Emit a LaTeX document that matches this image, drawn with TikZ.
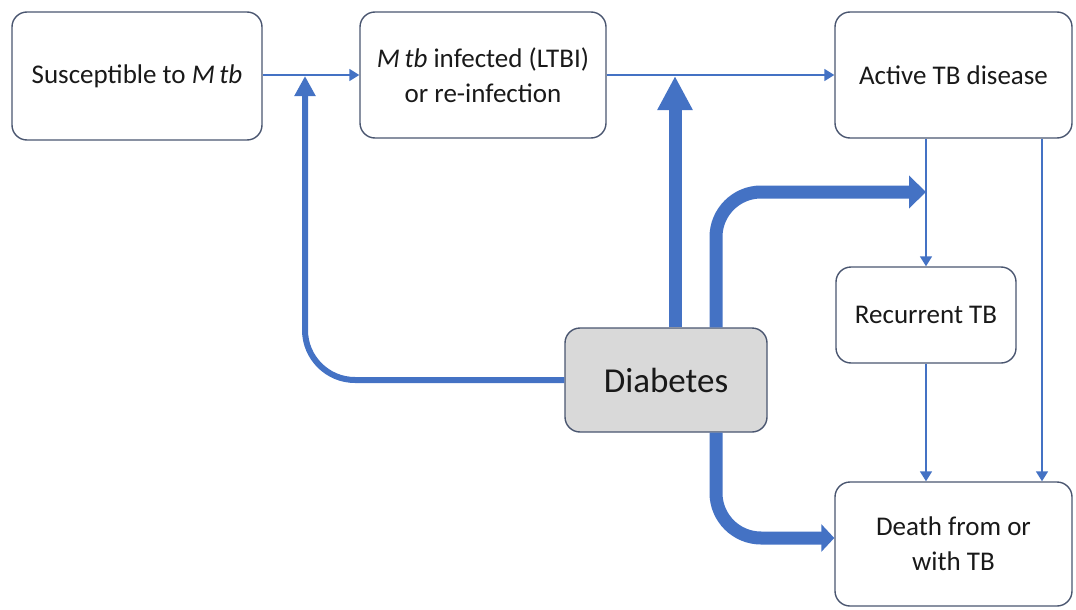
\documentclass[tikz,border=0pt]{standalone}
\usepackage{fontspec}
\setmainfont{Carlito}
\usetikzlibrary{arrows.meta}
\definecolor{flow}{HTML}{4472C4}
\definecolor{edge}{HTML}{4A5670}
\definecolor{dbfill}{HTML}{D9D9D9}

\begin{document}
\begin{tikzpicture}[
  x=1pt, y=-1pt,
  every node/.style={font=\fontsize{27}{35}\selectfont, text=black!90},
  box/.style={draw=edge, line width=1.4pt, rounded corners=15pt, align=center, inner sep=0pt},
  arr/.style={-{Triangle[width=12pt,length=10pt]}, color=flow, line width=1.7pt},
  fat/.style={-{Triangle[width=33pt,length=34pt]}, color=flow, line width=13pt},
  wide/.style={-{Triangle[width=32pt,length=17pt]}, color=flow, line width=13pt, rounded corners=45pt},
  slim/.style={-{Triangle[width=20pt,length=20pt]}, color=flow, line width=6pt, rounded corners=50pt}
]
  \useasboundingbox (0,0) rectangle (1076,610);

  \node[box, minimum width=250pt, minimum height=128pt] (sus) at (137,76) {Susceptible to \textit{M\,tb}};
  \node[box, minimum width=246pt, minimum height=126pt] (inf) at (483,75) {\textit{M\,tb} infected (LTBI)\\or re-infection};
  \node[box, minimum width=237pt, minimum height=126pt] (act) at (953.5,75) {Active TB disease};
  \node[box, minimum width=180pt, minimum height=96pt] (rec) at (926,315) {Recurrent TB};
  \node[box, minimum width=237pt, minimum height=124pt] (death) at (953.5,544) {Death from or\\with TB};
  \node[box, fill=dbfill, minimum width=202pt, minimum height=104pt,
        font=\fontsize{35}{40}\selectfont] (dia) at (666,380) {Diabetes};

  \coordinate (j1) at (305,76);
  \coordinate (j2) at (675,76);
  \coordinate (j3) at (926,192);
  \coordinate (j4) at (716,538);
  \coordinate (r)  at (1042,0);

  \draw[arr] (sus.east |- inf) -- (inf.west);
  \draw[arr] (inf.east) -- (act.west);
  \draw[arr] (act.south -| rec) -- (rec.north);
  \draw[arr] (rec.south) -- (rec.south |- death.north);
  \draw[arr] (act.south -| r) -- (death.north -| r);

  \draw[slim] (dia.west) -| (j1);
  \draw[fat] (dia.north -| j2) -- (j2);
  \draw[wide] (dia.north -| j4) |- (j3);
  \draw[wide, -{Triangle[width=27pt,length=13pt]}] (dia.south -| j4) |- (death.west |- j4);
\end{tikzpicture}
\end{document}
